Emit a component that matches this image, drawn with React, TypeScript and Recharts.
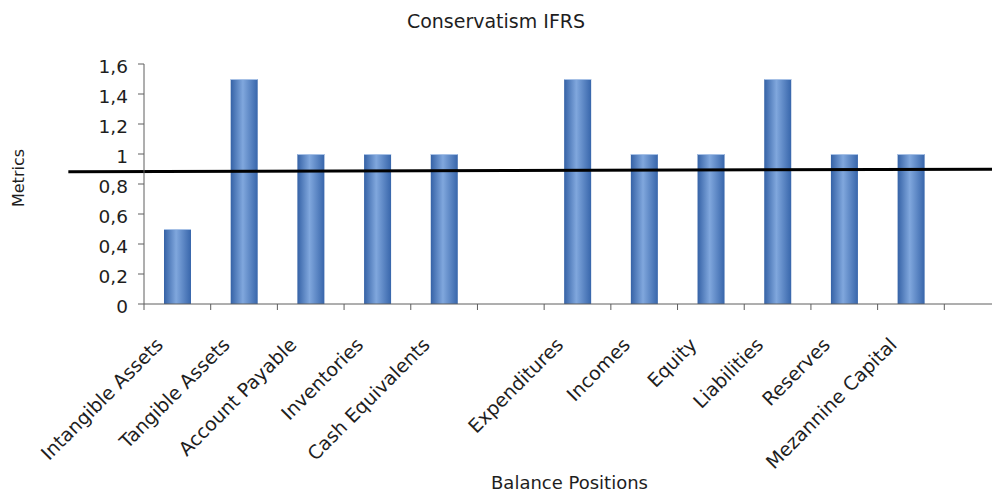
import React from 'react';
import { BarChart, Bar, XAxis, YAxis, ReferenceLine, Label } from 'recharts';

// Balance positions and their conservatism metric (blank slots keep the gaps on the axis)
const CATEGORIES = [
  'Intangible Assets',
  'Tangible Assets',
  'Account Payable',
  'Inventories',
  'Cash Equivalents',
  ' ',
  'Expenditures',
  'Incomes',
  'Equity',
  'Liabilities',
  'Reserves',
  'Mezannine Capital',
  '  ',
];
const METRICS: (number | null)[] = [0.5, 1.5, 1, 1, 1, null, 1.5, 1, 1, 1.5, 1, 1, null];
const Y_TICKS = [0, 0.2, 0.4, 0.6, 0.8, 1, 1.2, 1.4, 1.6];
// Threshold line level at the first and last slot
const THRESHOLD_START = 0.884;
const THRESHOLD_END = 0.898;

const data = CATEGORIES.map((name, i) => ({ name, value: METRICS[i] }));

const FONT = '"DejaVu Sans", Verdana, sans-serif';
const AXIS_COLOR = '#5e5e5e';
const TEXT_COLOR = '#1e1e1e';

const formatTick = (v: number) => String(v).replace('.', ',');

const CategoryTick = (props: any) => {
  const { x, y, payload } = props;
  const half = payload && typeof payload.offset === 'number' ? payload.offset : 33.3;
  return (
    <g>
      <line x1={x - half} y1={y} x2={x - half} y2={y + 6} stroke={AXIS_COLOR} strokeWidth={1} />
      <text
        transform={`translate(${x - 13},${y + 42}) rotate(-45)`}
        textAnchor="end"
        fontFamily={FONT}
        fontSize={19}
        fill={TEXT_COLOR}
      >
        {payload.value}
      </text>
    </g>
  );
};

const MetricTick = (props: any) => {
  const { x, y, payload } = props;
  return (
    <g>
      <line x1={x - 6} y1={y} x2={x} y2={y} stroke={AXIS_COLOR} strokeWidth={1} />
      <text x={x - 16} y={y + 9} textAnchor="end" fontFamily={FONT} fontSize={18.5} fill={TEXT_COLOR}>
        {formatTick(payload.value)}
      </text>
    </g>
  );
};

const GradientBar = (props: any) => {
  const { x, y, width, height } = props;
  if (!height || height <= 0) return null;
  return (
    <g>
      <rect x={x} y={y} width={width} height={height} fill="url(#barFill)" />
      <line x1={x} y1={y + 0.5} x2={x + width} y2={y + 0.5} stroke="#a7c1e6" strokeWidth={1} />
    </g>
  );
};

// Black threshold line, carried past both ends of the category range
const ThresholdLine = (props: any) => {
  const { x1, y1, x2, y2 } = props;
  const k = (y2 - y1) / (x2 - x1 || 1);
  const extLeft = 109;
  const extRight = 80;
  return (
    <line
      x1={x1 - extLeft}
      y1={y1 - k * extLeft}
      x2={x2 + extRight}
      y2={y2 + k * extRight}
      stroke="#000"
      strokeWidth={3}
    />
  );
};

export default function App() {
  return (
    <div
      style={{
        position: 'absolute',
        left: 0,
        top: 0,
        width: 992,
        height: 492,
        overflow: 'hidden',
        background: '#fff',
      }}
    >
      <div
        style={{
          position: 'absolute',
          left: 0,
          top: 8,
          width: 992,
          textAlign: 'center',
          fontFamily: FONT,
          fontSize: 19,
          color: TEXT_COLOR,
          lineHeight: '26px',
        }}
      >
        Conservatism IFRS
      </div>
      <BarChart
        width={1030}
        height={492}
        data={data}
        margin={{ top: 64, right: 19, left: 64, bottom: 0 }}
        barSize={27}
      >
        <defs>
          <linearGradient id="barFill" x1="0" y1="0" x2="1" y2="0">
            <stop offset="0%" stopColor="#3562a6" />
            <stop offset="45%" stopColor="#80a7dd" />
            <stop offset="100%" stopColor="#3866ab" />
          </linearGradient>
        </defs>
        <XAxis
          dataKey="name"
          height={188}
          interval={0}
          tickSize={0}
          tickMargin={0}
          tickLine={false}
          axisLine={{ stroke: AXIS_COLOR, strokeWidth: 1 }}
          tick={<CategoryTick />}
        >
          <Label
            content={({ viewBox }: any) => (
              <text
                x={viewBox.x + viewBox.width / 2 - 8}
                y={489}
                textAnchor="middle"
                fontFamily={FONT}
                fontSize={18}
                fill={TEXT_COLOR}
              >
                Balance Positions
              </text>
            )}
          />
        </XAxis>
        <YAxis
          width={80}
          domain={[0, 1.6]}
          ticks={Y_TICKS}
          interval={0}
          tickSize={0}
          tickMargin={0}
          tickLine={false}
          axisLine={{ stroke: AXIS_COLOR, strokeWidth: 1 }}
          tick={<MetricTick />}
        >
          <Label
            content={({ viewBox }: any) => (
              <text
                transform={`translate(${viewBox.x - 40},${viewBox.y + viewBox.height / 2 - 6}) rotate(-90)`}
                textAnchor="middle"
                fontFamily={FONT}
                fontSize={16}
                fill={TEXT_COLOR}
              >
                Metrics
              </text>
            )}
          />
        </YAxis>
        <Bar dataKey="value" isAnimationActive={false} shape={<GradientBar />} />
        <ReferenceLine
          segment={[
            { x: CATEGORIES[0], y: THRESHOLD_START },
            { x: CATEGORIES[CATEGORIES.length - 1], y: THRESHOLD_END },
          ]}
          ifOverflow="visible"
          shape={(p: any) => <ThresholdLine {...p} />}
        />
      </BarChart>
    </div>
  );
}
